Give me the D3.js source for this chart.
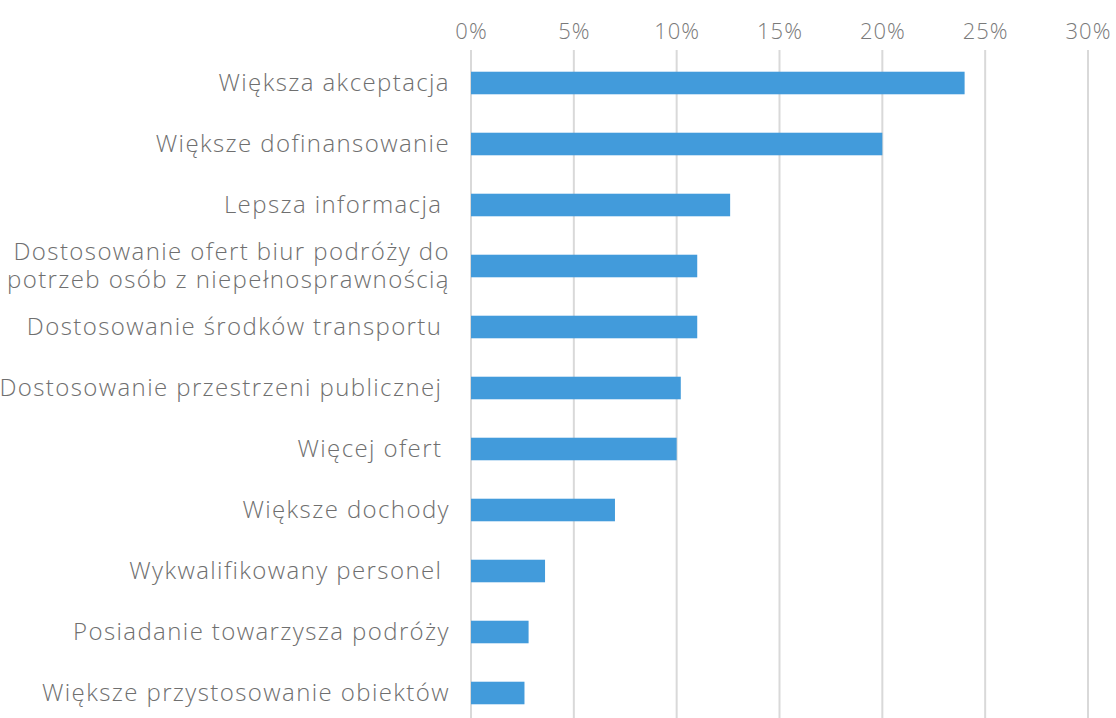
<!DOCTYPE html>
<html><head><meta charset="utf-8">
<script src="https://cdn.jsdelivr.net/npm/d3@7"></script>
<style>
body{margin:0;background:#fff;}
svg{display:block;}
text{font-family:"Open Sans",sans-serif;font-weight:300;fill:#6f6f6f;white-space:pre;}
</style></head>
<body><svg id="c" width="1116" height="718"></svg>
<script>
const categories = [
  ["Większa akceptacja"],
  ["Większe dofinansowanie"],
  ["Lepsza informacja "],
  ["Dostosowanie ofert biur podróży do", "potrzeb osób z niepełnosprawnością"],
  ["Dostosowanie środków transportu "],
  ["Dostosowanie przestrzeni publicznej "],
  ["Więcej ofert "],
  ["Większe dochody"],
  ["Wykwalifikowany personel "],
  ["Posiadanie towarzysza podróży"],
  ["Większe przystosowanie obiektów"]
];
const values = [24.0, 20.0, 12.6, 11.0, 11.0, 10.2, 10.0, 7.0, 3.6, 2.8, 2.6];
const tickValues = [0, 5, 10, 15, 20, 25, 30];

const svg = d3.select("#c");
const x = d3.scaleLinear().domain([0, 30]).range([471, 1088]);
const y = d3.scaleBand().domain(d3.range(categories.length)).range([52.5, 723.5])
  .paddingInner(0.63).paddingOuter(0.315);

// gridlines
svg.append("g").selectAll("line").data(tickValues).join("line")
  .attr("x1", d => x(d)).attr("x2", d => x(d))
  .attr("y1", 50).attr("y2", 718)
  .attr("stroke", "#d9d9d9").attr("stroke-width", 2);

// axis on top
const axis = d3.axisTop(x).tickValues(tickValues).tickFormat(d => d + "%").tickSize(0).tickPadding(0);
const ag = svg.append("g").attr("transform", "translate(0,39)").call(axis);
ag.select(".domain").remove();
ag.selectAll("text").style("font-size", "22px").style("fill", "#7a7a7a")
  .style("letter-spacing", "1px")
  .style("font-family", '"Open Sans",sans-serif').style("font-weight", 300);

// bars
svg.append("g").selectAll("rect").data(values).join("rect")
  .attr("x", x(0)).attr("y", (d, i) => y(i))
  .attr("width", d => x(d) - x(0)).attr("height", y.bandwidth())
  .attr("fill", "#429bdb");

// category labels
const lg = svg.append("g");
categories.forEach((lines, i) => {
  const cy = y(i) + y.bandwidth() / 2;
  const lh = 28;
  const t = lg.append("text").attr("text-anchor", "end").style("font-size", "24px")
    .style("letter-spacing", "1.4px");
  lines.forEach((ln, j) => {
    t.append("tspan").attr("x", 450)
      .attr("y", cy + (j - (lines.length - 1) / 2) * lh)
      .attr("dy", "0.35em").text(ln);
  });
});
</script></body></html>
